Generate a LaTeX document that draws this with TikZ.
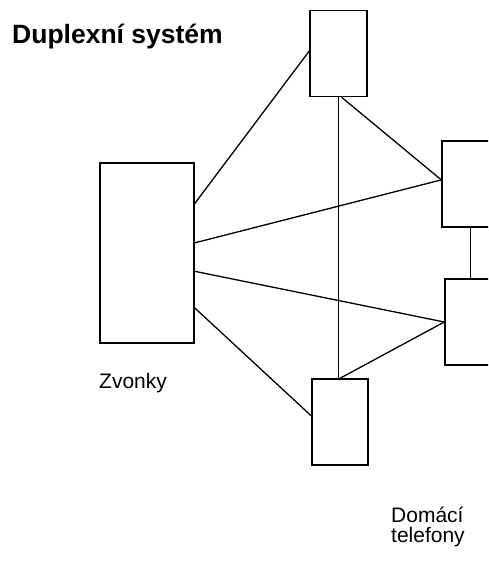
\documentclass[tikz,border=0pt]{standalone}
\usepackage{fontspec}
\setmainfont{Liberation Sans}
\usepackage{tikz}
\usetikzlibrary{calc}
\tikzset{
  unit/.style  = {draw, line width=1.4pt, inner sep=0pt, minimum width=57pt, minimum height=86pt},
  wire/.style  = {line width=1.3pt},
  lbl/.style   = {inner sep=0pt, align=left, font=\fontsize{21}{19.5}\selectfont},
}

\begin{document}
\begin{tikzpicture}[x=1pt, y=-1pt]
  \clip (0,0) rectangle (488,570);
  \node[anchor=base west, inner sep=0pt, font=\fontsize{26.5}{30}\selectfont\bfseries] (title) at (12,43) {Duplexní systém};
  \node[unit, minimum width=94pt, minimum height=180pt] (zvonky) at (147,253) {};
  \node[unit] (top) at (338.5,53.5) {};
  \node[unit, minimum width=56pt] (bot) at (340,422) {};
  \node[unit] (ru) at (470.5,184) {};
  \node[unit] (rl) at (473.5,322) {};
  \node[lbl, anchor=base west] (zvlbl) at (99,388) {Zvonky};
  \node[lbl, anchor=base west] (tellbl) at (391,542) {Domácí\\telefony};
  \draw[wire] (zvonky.46) -- (top.175);
  \draw[wire] (zvonky.12) -- (ru.172);
  \draw[wire] (zvonky.-21) -- (rl.west);
  \draw[wire] (zvonky.-49) -- (bot.168);
  \draw[wire] (top.south) -- (top.south |- bot.north);
  \draw[wire] (top.-86) -- (ru.172);
  \draw[wire] (bot.north) -- (rl.west);
  \draw[wire] (ru.south) -- (ru.south |- rl.north);
\end{tikzpicture}
\end{document}
